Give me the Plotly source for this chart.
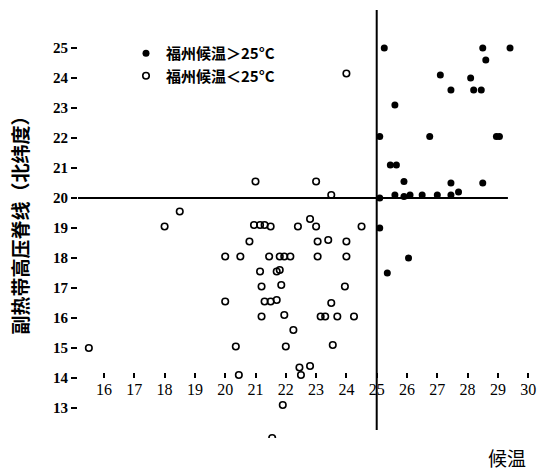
import plotly.graph_objects as go

# Filled points: 福州候温 > 25°C
hot_x = [25.25, 28.5, 29.4, 28.6, 27.1, 28.1, 27.45, 28.2, 28.45, 25.6, 25.1, 26.75, 28.95, 29.05,
         25.45, 25.65, 25.9, 27.45, 28.5, 25.1, 25.6, 25.9, 26.1, 26.5, 27.0, 27.45, 27.7,
         25.1, 25.35, 26.05]
hot_y = [25.0, 25.0, 25.0, 24.6, 24.1, 24.0, 23.6, 23.6, 23.6, 23.1, 22.05, 22.05, 22.05, 22.05,
         21.1, 21.1, 20.55, 20.5, 20.5, 20.0, 20.1, 20.05, 20.1, 20.1, 20.1, 20.1, 20.2,
         19.0, 17.5, 18.0]

# Open points: 福州候温 < 25°C
cold_x = [15.5, 18.0, 18.5, 20.0, 20.5, 20.0, 20.35, 20.45, 20.8,
          20.95, 21.15, 21.3, 21.5, 21.0,
          21.45, 21.8, 21.95, 22.15, 21.15, 21.7, 21.8, 21.2, 21.85,
          21.3, 21.5, 21.7, 21.2, 21.95, 22.25, 22.0, 21.9, 21.55,
          22.4, 22.8, 23.0, 23.0, 23.5, 24.0, 24.5,
          23.05, 23.4, 24.0, 23.05, 24.0, 23.95, 23.5,
          23.15, 23.3, 23.7, 24.25, 23.55, 22.45, 22.8, 22.5]
cold_y = [15.0, 19.05, 19.55, 18.05, 18.05, 16.55, 15.05, 14.1, 18.55,
          19.1, 19.1, 19.1, 19.05, 20.55,
          18.05, 18.05, 18.05, 18.05, 17.55, 17.55, 17.6, 17.05, 17.1,
          16.55, 16.55, 16.6, 16.05, 16.1, 15.6, 15.05, 13.1, 12.0,
          19.05, 19.3, 19.05, 20.55, 20.1, 24.15, 19.05,
          18.55, 18.6, 18.55, 18.05, 18.05, 17.05, 16.5,
          16.05, 16.05, 16.05, 16.05, 15.1, 14.35, 14.4, 14.1]

x_ticks = list(range(16, 31))
y_ticks = list(range(13, 26))
threshold_temp = 25
threshold_lat = 20
hline_x = [15.142, 29.33]
vline_y = [12.27, 26.27]

X_RANGE = [15.142, 30.224]
Y_RANGE = [12.0, 26.333]

fig = go.Figure()

fig.add_trace(go.Scatter(x=hline_x, y=[threshold_lat, threshold_lat], mode="lines",
                         line=dict(color="black", width=2), showlegend=False, hoverinfo="skip"))
fig.add_trace(go.Scatter(x=[threshold_temp, threshold_temp], y=vline_y, mode="lines",
                         line=dict(color="black", width=2), showlegend=False, hoverinfo="skip"))

fig.add_trace(go.Scatter(x=hot_x, y=hot_y, mode="markers", name="福州候温＞25°C",
                         marker=dict(symbol="circle", size=7, color="black")))
fig.add_trace(go.Scatter(x=cold_x, y=cold_y, mode="markers", name="福州候温＜25°C",
                         marker=dict(symbol="circle-open", size=6.5, color="black",
                                     line=dict(width=1.6, color="black"))))

xpos = (14 - Y_RANGE[0]) / (Y_RANGE[1] - Y_RANGE[0])

fig.update_layout(
    width=539, height=470,
    margin=dict(l=78, r=4, t=8, b=32, autoexpand=False),
    paper_bgcolor="white", plot_bgcolor="white",
    showlegend=True,
    legend=dict(x=(126 - 78) / 457, y=(438 - 37) / 430, xanchor="left", yanchor="top",
                bgcolor="rgba(0,0,0,0)", borderwidth=0, tracegroupgap=0,
                font=dict(family="Noto Sans CJK SC", size=15, color="black", weight="bold"),
                itemsizing="trace"),
    xaxis=dict(range=X_RANGE, tickvals=x_ticks, ticktext=[str(v) for v in x_ticks],
               showgrid=False, zeroline=False, showline=False,
               anchor="free", position=xpos,
               ticks="inside", ticklen=5, tickwidth=1.5, tickcolor="black",
               tickfont=dict(family="Liberation Serif", size=16, color="black")),
    yaxis=dict(range=Y_RANGE, tickvals=y_ticks, ticktext=[str(v) for v in y_ticks],
               showgrid=False, zeroline=False, showline=False,
               ticks="outside", ticklen=6, tickwidth=1.5, tickcolor="black",
               tickfont=dict(family="Liberation Serif", size=15, color="black", weight="bold")),
    annotations=[
        dict(text="候温", xref="paper", yref="paper", x=(507 - 78) / 457, y=(438 - 457) / 430,
             showarrow=False, xanchor="center", yanchor="middle",
             font=dict(family="Noto Sans CJK SC", size=19, color="black")),
        dict(text="副热带高压脊线（北纬度）", xref="paper", yref="paper",
             x=(18.5 - 78) / 457, y=(438 - 221) / 430, textangle=-90,
             showarrow=False, xanchor="center", yanchor="middle",
             font=dict(family="Noto Sans CJK SC", size=19, color="black", weight="bold")),
    ],
)

fig.write_html("out.html", config={"displayModeBar": False},
               post_script="document.body.style.margin='0';")
